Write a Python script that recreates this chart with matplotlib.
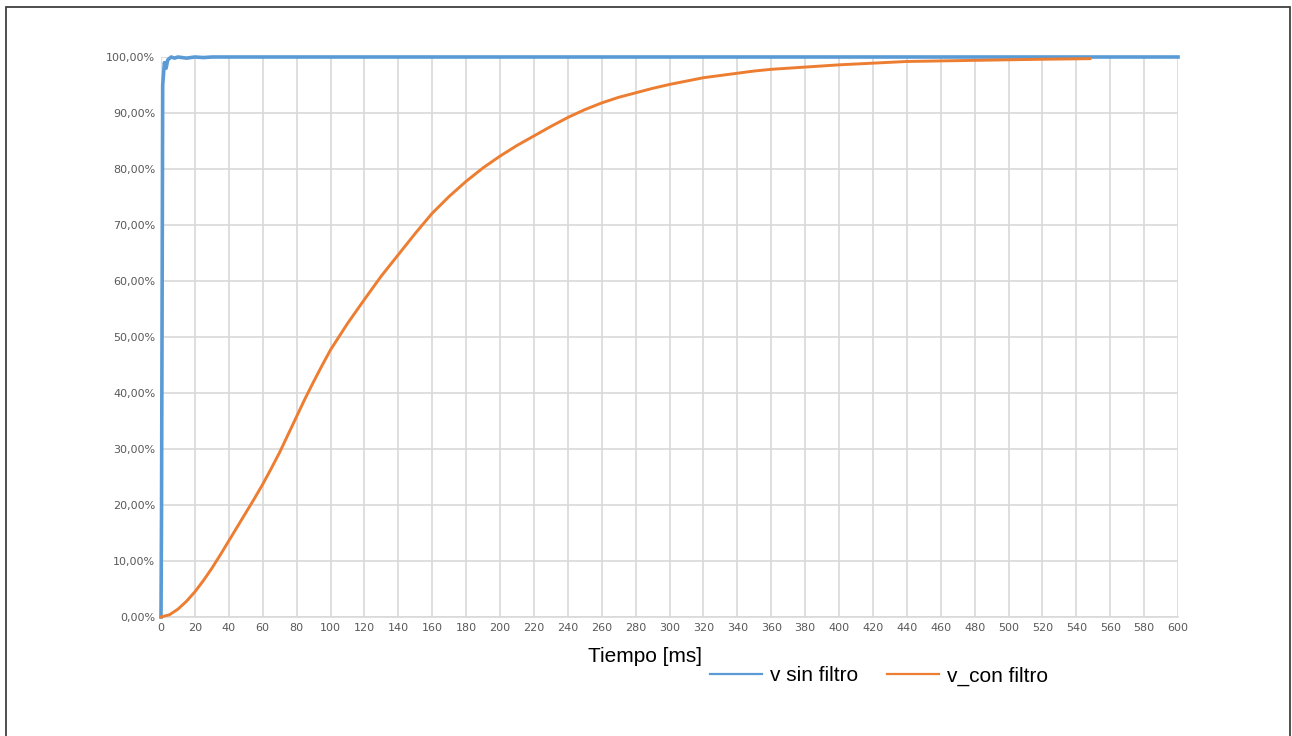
import matplotlib
matplotlib.use("Agg")
import matplotlib.pyplot as plt
from matplotlib.ticker import FuncFormatter, MultipleLocator
from matplotlib.patches import Rectangle

# tiempo [ms] y tension relativa [%]
t_sin = [0, 0.3, 0.6, 1, 1.5, 2, 3, 4, 6, 8, 10, 15, 20, 25, 30, 600]
v_sin = [0, 18, 50, 95, 97, 99, 98, 99.5, 100, 99.8, 100, 99.8, 100, 99.9, 100, 100]

t_con = [0, 5, 10, 15, 20, 25, 30, 35, 40, 45, 50, 55, 60, 65, 70, 75, 80, 85,
         90, 95, 100, 110, 120, 130, 140, 150, 160, 170, 180, 190, 200, 210, 220,
         230, 240, 250, 260, 270, 280, 290, 300, 310, 320, 330, 340, 350, 360,
         380, 400, 420, 440, 460, 480, 500, 520, 548]
v_con = [0, 0.4, 1.4, 2.8, 4.5, 6.5, 8.7, 11.1, 13.6, 16.1, 18.6, 21.1, 23.7,
         26.5, 29.4, 32.6, 35.8, 39.0, 42.0, 44.9, 47.7, 52.4, 56.7, 60.9, 64.7,
         68.5, 72.1, 75.1, 77.8, 80.2, 82.3, 84.2, 85.9, 87.6, 89.2, 90.6, 91.8,
         92.8, 93.6, 94.4, 95.1, 95.7, 96.3, 96.7, 97.1, 97.5, 97.8,
         98.2, 98.6, 98.9, 99.2, 99.3, 99.4, 99.5, 99.6, 99.7]

BLUE = '#5B9BD5'
ORANGE = '#ED7D31'
GRID = '#D9D9D9'
LABEL = '#595959'

fig = plt.figure(figsize=(12.92, 7.36), dpi=100)
ax = fig.add_axes([161 / 1292, 1 - 617 / 736, 1017 / 1292, 560 / 736])

ax.plot(t_sin, v_sin, color=BLUE, lw=2.6, label='v sin filtro', clip_on=False, zorder=3)
ax.plot(t_con, v_con, color=ORANGE, lw=2.1, label='v_con filtro', clip_on=False, zorder=4)

ax.set_xlim(0, 600)
ax.set_ylim(0, 100)
ax.xaxis.set_major_locator(MultipleLocator(20))
ax.yaxis.set_major_locator(MultipleLocator(10))
ax.yaxis.set_major_formatter(FuncFormatter(lambda v, p: f"{v:.2f}%".replace('.', ',')))
ax.grid(True, color=GRID, lw=1.2)
ax.set_axisbelow(True)
for s in ['top', 'right', 'left']:
    ax.spines[s].set_visible(False)
ax.spines['bottom'].set_color(GRID)
ax.spines['bottom'].set_linewidth(1.2)
ax.tick_params(length=0, labelsize=8, labelcolor=LABEL, pad=4)

fig.text(645 / 1292, 1 - 656 / 736, 'Tiempo [ms]', ha='center', va='center',
         fontsize=15, family='Liberation Sans')

leg = fig.legend(loc='center', bbox_to_anchor=(879 / 1292, 1 - 676 / 736), ncol=2,
                 frameon=False, prop={'family': 'Liberation Sans', 'size': 15},
                 handlelength=2.5, handletextpad=0.38, columnspacing=1.4)
for h in leg.get_lines():
    h.set_linewidth(1.6)

# marco exterior
fig.patches.append(Rectangle((6 / 1292, -0.05), 1284 / 1292, 1.05 - 7 / 736,
                             transform=fig.transFigure, fill=False,
                             edgecolor='#404040', lw=1.3))

fig.savefig('out.png', dpi=100)
